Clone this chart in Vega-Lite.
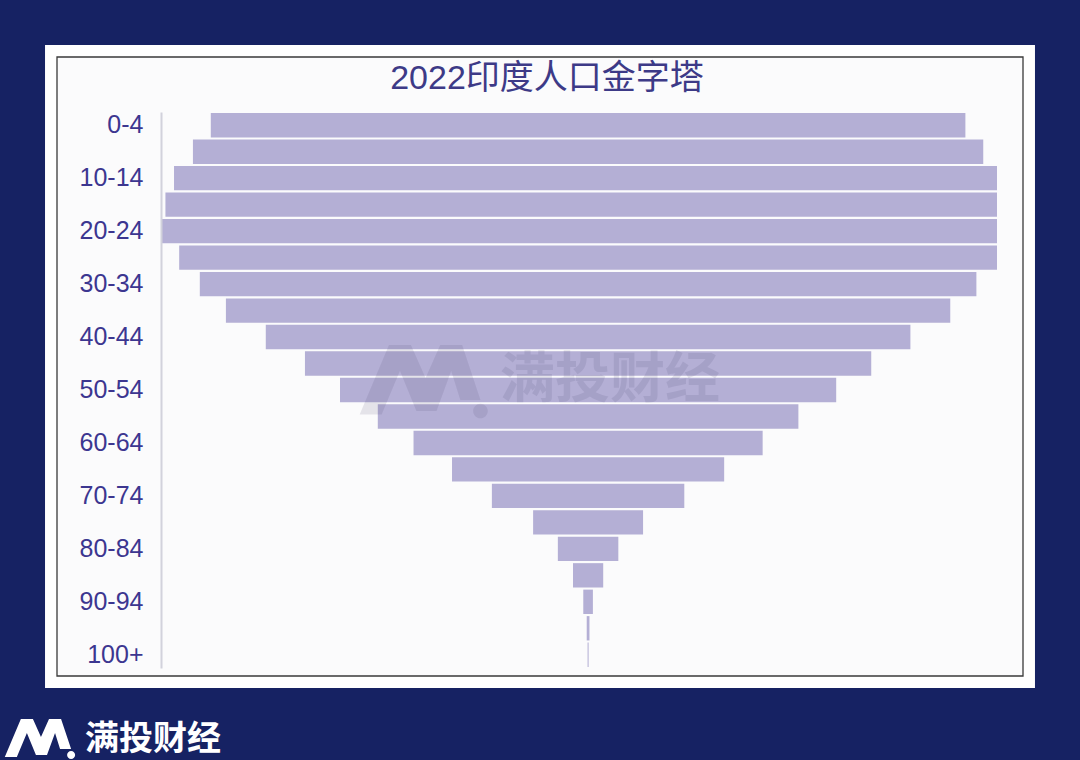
{
  "$schema": "https://vega.github.io/schema/vega-lite/v6.json",
  "width": 966,
  "height": 619,
  "autosize": {"type": "none"},
  "padding": {"left": 57, "top": 57, "right": 57, "bottom": 84},
  "background": "#162263",
  "config": {"view": {"stroke": null, "fill": null}},
  "title": {
    "text": "2022印度人口金字塔",
    "font": "Liberation Sans, Noto Sans CJK SC",
    "fontSize": 34,
    "fontWeight": "normal",
    "color": "#3d3a87",
    "anchor": "middle",
    "frame": "group",
    "offset": -51,
    "dx": 7
  },
  "data": {
    "values": [
      {"age": "0-4", "population": 109.8},
      {"age": "5-9", "population": 115.0},
      {"age": "10-14", "population": 120.5},
      {"age": "15-19", "population": 123.0},
      {"age": "20-24", "population": 124.0},
      {"age": "25-29", "population": 119.0},
      {"age": "30-34", "population": 113.0},
      {"age": "35-39", "population": 105.4},
      {"age": "40-44", "population": 93.8},
      {"age": "45-49", "population": 82.4},
      {"age": "50-54", "population": 72.2},
      {"age": "55-59", "population": 61.2},
      {"age": "60-64", "population": 50.8},
      {"age": "65-69", "population": 39.6},
      {"age": "70-74", "population": 28.0},
      {"age": "75-79", "population": 16.0},
      {"age": "80-84", "population": 8.8},
      {"age": "85-89", "population": 4.4},
      {"age": "90-94", "population": 1.4},
      {"age": "95-99", "population": 0.4},
      {"age": "100+", "population": 0.15}
    ]
  },
  "layer": [
    {
      "data": {"values": [{}]},
      "mark": {"type": "rect", "fill": "#ffffff", "clip": false},
      "encoding": {
        "x": {"datum": -0.0124, "type": "quantitative", "scale": {"domain": [0, 1]}, "axis": null},
        "x2": {"datum": 1.0124},
        "y": {"datum": -0.0194, "type": "quantitative", "scale": {"domain": [0, 1]}, "axis": null},
        "y2": {"datum": 1.0194}
      }
    },
    {
      "data": {"values": [{}]},
      "mark": {"type": "rect", "fill": "#fbfbfc", "stroke": "#3a3a3a", "strokeWidth": 1.3, "clip": false},
      "encoding": {
        "x": {"datum": 0, "type": "quantitative", "scale": {"domain": [0, 1]}, "axis": null},
        "x2": {"datum": 1},
        "y": {"datum": 0, "type": "quantitative", "scale": {"domain": [0, 1]}, "axis": null},
        "y2": {"datum": 1}
      }
    },
    {
      "mark": {"type": "bar", "color": "#b4afd5"},
      "encoding": {
        "y": {
          "field": "age",
          "type": "nominal",
          "sort": null,
          "scale": {
            "domain": ["0-4","5-9","10-14","15-19","20-24","25-29","30-34","35-39","40-44","45-49","50-54","55-59","60-64","65-69","70-74","75-79","80-84","85-89","90-94","95-99","100+"],
            "range": [55, 611],
            "paddingInner": 0.08,
            "paddingOuter": 0.04
          },
          "axis": {
            "title": null,
            "orient": "left",
            "offset": -104,
            "zindex": 1,
            "domainColor": "#d2d2dc",
            "domainWidth": 2,
            "ticks": false,
            "grid": false,
            "labelPadding": 18,
            "labelFont": "Liberation Sans",
            "labelFontSize": 25,
            "labelColor": "#3c3690",
            "values": ["0-4","10-14","20-24","30-34","40-44","50-54","60-64","70-74","80-84","90-94","100+"]
          }
        },
        "x": {
          "field": "population",
          "type": "quantitative",
          "stack": "center",
          "scale": {"domain": [0, 121.5], "range": [105, 940], "clamp": true, "nice": false, "zero": false},
          "axis": null
        }
      }
    },
    {
      "data": {"values": [{}]},
      "mark": {
        "type": "point",
        "shape": "M-1.005,0.6 L-0.525,-0.54 L-0.165,-0.54 L0.075,0 L0.315,-0.54 L0.675,-0.54 L0.975,0.36 L0.645,0.36 L0.495,-0.12 L0.255,0.54 L-0.075,0.54 L-0.345,-0.12 L-0.645,0.6 Z M0.855,0.54 A0.12,0.12 0 1,0 1.095,0.54 A0.12,0.12 0 1,0 0.855,0.54 Z",
        "filled": true,
        "color": "#4a4670",
        "opacity": 0.13,
        "size": 14884,
        "strokeWidth": 0,
        "clip": false
      },
      "encoding": {
        "x": {"datum": 0.3768, "type": "quantitative", "scale": {"domain": [0, 1]}, "axis": null},
        "y": {"datum": 0.4814, "type": "quantitative", "scale": {"domain": [0, 1]}, "axis": null}
      }
    },
    {
      "data": {"values": [{}]},
      "mark": {
        "type": "text",
        "text": "满投财经",
        "font": "Noto Sans CJK SC",
        "fontWeight": "bold",
        "fontSize": 55,
        "color": "#4a4670",
        "opacity": 0.13,
        "align": "left",
        "baseline": "middle",
        "clip": false
      },
      "encoding": {
        "x": {"datum": 0.4586, "type": "quantitative", "scale": {"domain": [0, 1]}, "axis": null},
        "y": {"datum": 0.478, "type": "quantitative", "scale": {"domain": [0, 1]}, "axis": null}
      }
    },
    {
      "data": {"values": [{}]},
      "mark": {
        "type": "point",
        "shape": "M-1.005,0.6 L-0.525,-0.54 L-0.165,-0.54 L0.075,0 L0.315,-0.54 L0.675,-0.54 L0.975,0.36 L0.645,0.36 L0.495,-0.12 L0.255,0.54 L-0.075,0.54 L-0.345,-0.12 L-0.645,0.6 Z M0.855,0.54 A0.12,0.12 0 1,0 1.095,0.54 A0.12,0.12 0 1,0 0.855,0.54 Z",
        "filled": true,
        "color": "#ffffff",
        "opacity": 1,
        "size": 4489,
        "strokeWidth": 0,
        "clip": false
      },
      "encoding": {
        "x": {"datum": -0.0192, "type": "quantitative", "scale": {"domain": [0, 1]}, "axis": null},
        "y": {"datum": -0.0985, "type": "quantitative", "scale": {"domain": [0, 1]}, "axis": null}
      }
    },
    {
      "data": {"values": [{}]},
      "mark": {
        "type": "text",
        "text": "满投财经",
        "font": "Noto Sans CJK SC",
        "fontWeight": "bold",
        "fontSize": 34,
        "color": "#ffffff",
        "align": "left",
        "baseline": "middle",
        "clip": false
      },
      "encoding": {
        "x": {"datum": 0.029, "type": "quantitative", "scale": {"domain": [0, 1]}, "axis": null},
        "y": {"datum": -0.1034, "type": "quantitative", "scale": {"domain": [0, 1]}, "axis": null}
      }
    }
  ],
  "resolve": {"scale": {"x": "independent", "y": "independent"}}
}
